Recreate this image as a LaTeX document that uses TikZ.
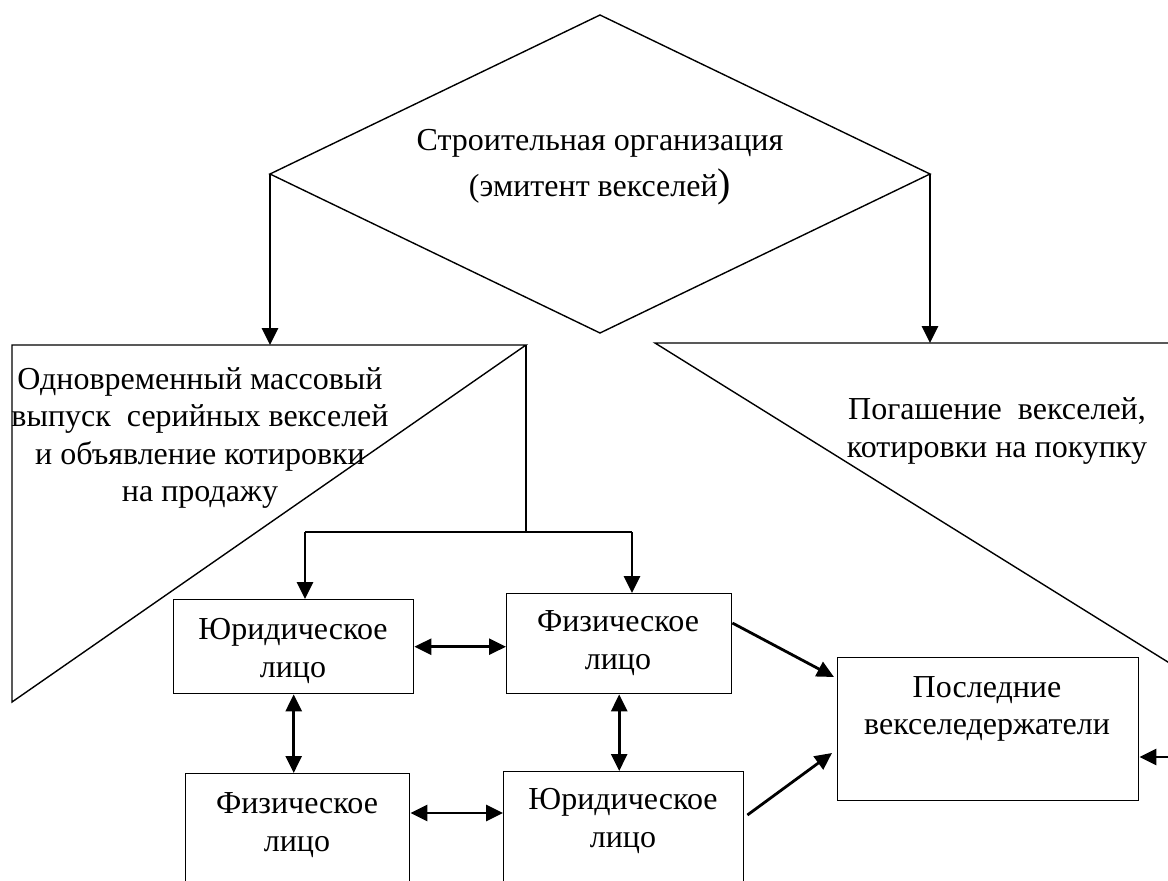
\documentclass[tikz,border=0pt]{standalone}
\usepackage{fontspec}
\setmainfont{Liberation Serif}
\usetikzlibrary{arrows.meta,calc}
\begin{document}
\begin{tikzpicture}[x=1pt,y=-1pt,
  outline/.style={line width=1.4pt,line join=miter},
  box/.style={draw,line width=1.4pt,inner sep=0pt,anchor=north west},
  txt/.style={font=\fontsize{32}{37.5}\selectfont,align=center,inner sep=0pt},
  arr/.style={line width=2.8pt,-{Triangle[length=17pt,width=16pt]}},
  darr/.style={line width=2.8pt,{Triangle[length=17pt,width=16pt]}-{Triangle[length=17pt,width=16pt]}},
]
\useasboundingbox (0,0) rectangle (1168,881);
\clip (0,0) rectangle (1168,881);

% issuer (diamond)
\coordinate (dT) at (600,15);
\coordinate (dR) at (930,174);
\coordinate (dB) at (600,333);
\coordinate (dL) at (270,174);
\draw[outline] (dT) -- (dR) -- (dB) -- (dL) -- cycle;
\node[txt] (issuer) at (600,167) {Строительная организация\\[8pt](эмитент векселей{\fontsize{40}{37.5}\selectfont)}};

% issue block (left wedge)
\coordinate (lA) at (12,345);
\coordinate (lB) at (526,345);
\coordinate (lC) at (12,702);
\draw[outline] (lB) -- (lA) -- (lC) -- cycle;
\node[txt] (issue) at (200,438) {Одновременный массовый\\выпуск\ \ серийных векселей\\и объявление котировки\\на продажу};

% redemption block (right wedge)
\coordinate (rA) at (655,343);
\coordinate (rB) at (1200,343);
\coordinate (rC) at (1200,682);
\draw[outline] (rB) -- (rA) -- (rC);
\node[txt] (redeem) at (997,431) {Погашение\ \ векселей,\\котировки на покупку};

% holders
\node[box,minimum width=240pt,minimum height=94pt] (yur1) at (173,599) {};
\node[box,minimum width=225pt,minimum height=100pt] (fiz1) at (506,593) {};
\node[box,minimum width=224pt,minimum height=150pt] (fiz2) at (185,773) {};
\node[box,minimum width=240pt,minimum height=150pt] (yur2) at (503,771) {};
\node[box,minimum width=301pt,minimum height=143pt] (last) at (837,657) {};

\node[txt] (yur1t) at (293,651) {Юридическое\\лицо};
\node[txt] (fiz1t) at (618,643) {Физическое\\лицо};
\node[txt] (fiz2t) at (297,825) {Физическое\\лицо};
\node[txt] (yur2t) at (623,821) {Юридическое\\лицо};
\node[txt] (lastt) at (987,709) {Последние\\векселедержатели};

% issuer to both blocks
\draw[arr] (dL) -- (dL |- lA);
\draw[arr] (dR) -- (dR |- rA);

% distribution of the issue
\coordinate (sM) at (526,532);
\coordinate (sL) at (305,532);
\coordinate (sR) at (632,532);
\draw[outline] (lB) -- (sM);
\draw[line width=2.2pt] (sL) -- (sR);
\draw[arr] (sL) -- (sL |- yur1.north);
\draw[arr] (sR) -- (sR |- fiz1.north);

% circulation between holders
\coordinate (h2) at ($(fiz2.north east)+(0,40)$);
\draw[darr] (yur1.east) -- (yur1.east -| fiz1.west);
\draw[darr] (h2) -- (h2 -| yur2.west);
\draw[darr] (yur1.south) -- (yur1.south |- fiz2.north);
\draw[darr] (fiz1.south) -- (fiz1.south |- yur2.north);

% to the last holders
\coordinate (f1out) at ($(fiz1.north east)+(0,30)$);
\coordinate (y2out) at ($(yur2.north east)+(3,44)$);
\coordinate (lin1) at ($(last.north west)+(-3,20)$);
\coordinate (lin2) at ($(last.north west)+(-5,96)$);
\draw[arr] (f1out) -- (lin1);
\draw[arr] (y2out) -- (lin2);
\coordinate (rin) at (1168,757);
\draw[arr] (rin) -- (rin -| last.east);
\end{tikzpicture}
\end{document}
